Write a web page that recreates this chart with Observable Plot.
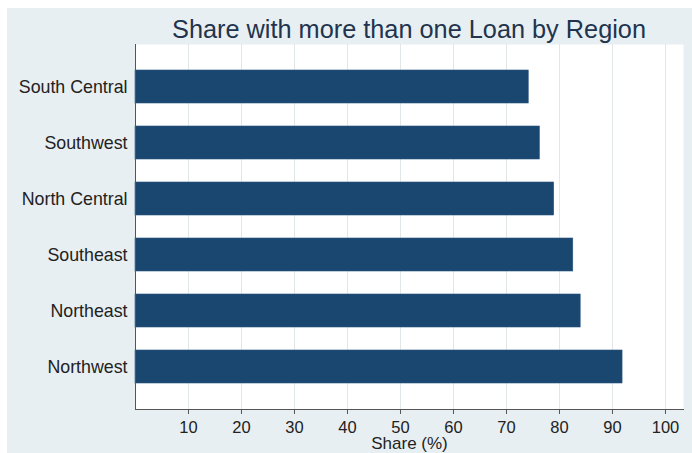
<!DOCTYPE html>
<html><head><meta charset="utf-8">
<script src="https://cdn.jsdelivr.net/npm/d3@7"></script>
<script src="https://cdn.jsdelivr.net/npm/@observablehq/plot@0.6"></script>
<style>
html,body{margin:0;padding:0;background:#fff;}
#wrap{position:absolute;left:7px;top:8px;width:685px;height:445px;background:#e8eff2;overflow:hidden;}
#title{position:absolute;left:128px;width:548px;top:7px;text-align:center;font-size:25.3px;font-family:"Liberation Sans",Arial,sans-serif;color:#22344d;white-space:nowrap;}
#chart{position:absolute;left:0;top:0;}
</style></head><body>
<div id="wrap"><div id="chart"></div><div id="title">Share with more than one Loan by Region</div></div>
<script>
const regions = ["South Central", "Southwest", "North Central", "Southeast", "Northeast", "Northwest"];
const shares = [74.2, 76.3, 79.0, 82.6, 84.0, 91.9];
const xTicks = [10, 20, 30, 40, 50, 60, 70, 80, 90, 100];
const xLabel = "Share (%)";

const data = regions.map((r, i) => ({region: r, share: shares[i]}));

const plot = Plot.plot({
  width: 685, height: 445,
  marginLeft: 128, marginRight: 9, marginTop: 36, marginBottom: 44,
  style: {background: "transparent", fontFamily: '"Liberation Sans", Arial, sans-serif', fontSize: "17px", color: "#222"},
  x: {domain: [0, 103.4], label: null},
  y: {domain: regions, padding: 0.41, label: null},
  marks: [
    Plot.frame({fill: "white", stroke: null}),
    Plot.gridX(xTicks, {stroke: "#e2e7ea", strokeOpacity: 1}),
    Plot.barX(data, {x: "share", y: "region", fill: "#1a476f", stroke: "#2a5680", strokeWidth: 0.6}),
    Plot.axisY({tickSize: 0, tickPadding: 8, fontSize: 17.8}),
    Plot.axisX(xTicks, {tickSize: 5, tickPadding: 7, stroke: "#555", fontSize: 16.5, label: null}),
    Plot.axisX([], {label: xLabel, labelAnchor: "center", labelOffset: 39.5, labelArrow: "none", fontSize: 17}),
    Plot.frame({anchor: "bottom", stroke: "#555"}),
    Plot.frame({anchor: "left", stroke: "#555"})
  ]
});
document.getElementById("chart").appendChild(plot);
</script>
</body></html>
